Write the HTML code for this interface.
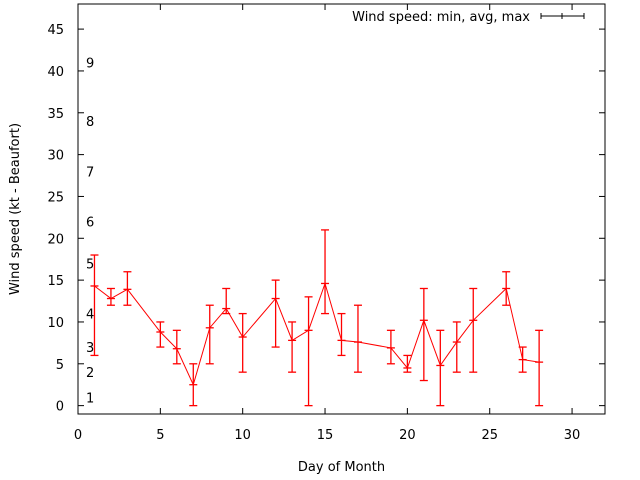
<!DOCTYPE html>
<html><head><meta charset="utf-8"><style>
body{margin:0;background:#fff}
svg{display:block;font-family:"DejaVu Sans","Liberation Sans",sans-serif}
</style></head><body>
<svg id="c" width="640" height="480"></svg>
<script>
const days=[1,2,3,5,6,7,8,9,10,12,13,14,15,16,17,19,20,21,22,23,24,26,27,28];
const avgs=[14.3,12.8,13.9,8.8,6.8,2.5,9.3,11.6,8.2,12.8,7.8,9.0,14.6,7.8,7.6,6.9,4.5,10.2,4.8,7.6,10.2,14.0,5.5,5.2];
const mins=[6,12,12,7,5,0,5,11,4,7,4,0,11,6,4,5,4,3,0,4,4,12,4,0];
const maxs=[18,14,16,10,9,5,12,14,11,15,10,13,21,11,12,9,6,14,9,10,14,16,7,9];
const xTicks=[0,5,10,15,20,25,30];
const yTicks=[0,5,10,15,20,25,30,35,40,45];
const beaufort=["1","2","3","4","5","6","7","8","9"];
const beaufortKt=[1,4,7,11,17,22,28,34,41];
const L=78,R=605,T=4,B=414,X0=0,X1=32,Y0=-1,Y1=48;
const sx=v=>L+(v-X0)/(X1-X0)*(R-L);
const sy=v=>B-(v-Y0)/(Y1-Y0)*(B-T);
const svg=document.getElementById('c');const NS="http://www.w3.org/2000/svg";
function el(t,a,p){const e=document.createElementNS(NS,t);for(const k in a)e.setAttribute(k,a[k]);(p||svg).appendChild(e);return e;}
function txt(s,a){const e=el('text',a);e.textContent=s;return e;}
const frame=el('rect',{x:L,y:T,width:R-L,height:B-T,fill:'none',stroke:'#000','stroke-width':1});

xTicks.forEach(v=>{const x=sx(v);
 el('line',{x1:x,x2:x,y1:B,y2:B-6,stroke:'#000'});el('line',{x1:x,x2:x,y1:T,y2:T+6,stroke:'#000'});
 const t=txt(v,{x:x,y:B+25,'text-anchor':'middle','font-size':13,fill:'#000'});
 });
yTicks.forEach(v=>{const y=sy(v);
 el('line',{x1:L,x2:L+6,y1:y,y2:y,stroke:'#000'});el('line',{x1:R,x2:R-6,y1:y,y2:y,stroke:'#000'});
 const t=txt(v,{x:L-14,y:y+5,'text-anchor':'end','font-size':13,fill:'#000'});
 });
beaufort.forEach((s,i)=>{const t=txt(s,{x:86,y:sy(beaufortKt[i])+5,'font-size':13,fill:'#000'});
 });
let t=txt('Day of Month',{x:(L+R)/2,y:471,'text-anchor':'middle','font-size':13});

t=txt('Wind speed (kt - Beaufort)',{x:0,y:0,'text-anchor':'middle','font-size':13,transform:`translate(19,${(T+B)/2}) rotate(-90)`});

t=txt('Wind speed: min, avg, max',{x:530,y:21,'text-anchor':'end','font-size':13});

el('line',{x1:541,x2:584,y1:16,y2:16,stroke:'#000'});el('line',{x1:541,x2:541,y1:13,y2:19,stroke:'#000'});
el('line',{x1:584,x2:584,y1:13,y2:19,stroke:'#000'});el('line',{x1:562,x2:562,y1:13,y2:19,stroke:'#000'});
const line=el('polyline',{points:days.map((d,i)=>sx(d)+','+sy(avgs[i])).join(' '),fill:'none',stroke:'#f00','stroke-width':1});

days.forEach((d,i)=>{const x=sx(d);const g=el('g',{stroke:'#f00','stroke-width':1.3});
 
 el('line',{x1:x,x2:x,y1:sy(mins[i]),y2:sy(maxs[i])},g);
 [mins[i],maxs[i],avgs[i]].forEach(v=>el('line',{x1:x-4,x2:x+4,y1:sy(v),y2:sy(v)},g));});
</script>
</body></html>
